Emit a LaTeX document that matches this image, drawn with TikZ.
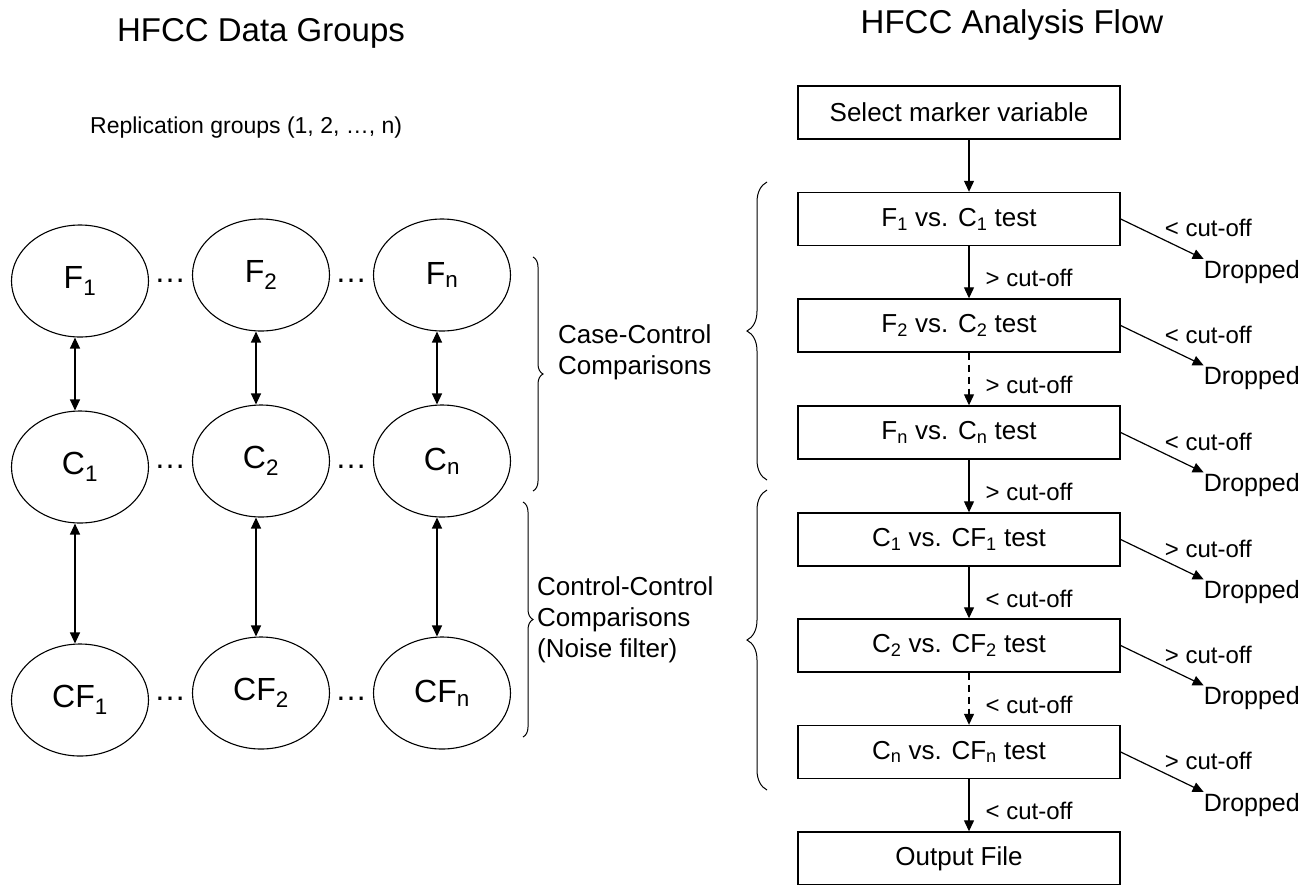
\documentclass[tikz,border=0pt]{standalone}
\usepackage{fontspec}
\setmainfont{Liberation Sans}
\usetikzlibrary{arrows.meta,shapes.geometric,calc,decorations.pathreplacing}
\begin{document}
\begin{tikzpicture}[x=1pt,y=-1pt,
  ell/.style={ellipse,draw,line width=1.1pt,minimum width=137pt,minimum height=112pt,inner sep=0pt,font=\fontsize{32}{38}\selectfont},
  box/.style={rectangle,draw,line width=1.4pt,minimum width=322pt,minimum height=53pt,inner sep=0pt,font=\fontsize{26}{31}\selectfont},
  dots/.style={inner sep=0pt,anchor=base,font=\fontsize{32}{38}\selectfont},
  arr/.style={line width=1.2pt,-{Triangle[length=11pt,width=10pt]}},
  darr/.style={line width=1.2pt,{Triangle[length=11pt,width=10pt]}-{Triangle[length=11pt,width=10pt]}},
  dsh/.style={dash pattern=on 7pt off 5pt},
  lab/.style={inner sep=0pt,anchor=west,font=\fontsize{24}{28}\selectfont},
  drp/.style={inner sep=0pt,anchor=west,font=\fontsize{25}{30}\selectfont},
  side/.style={inner sep=0pt,anchor=west,align=left,font=\fontsize{26}{31}\selectfont},
  title/.style={inner sep=0pt,font=\fontsize{33}{40}\selectfont},
  brc/.style={decorate,line width=1pt}
]
\useasboundingbox (0,0) rectangle (1316,884);

% ---- titles ----
\node[title] (tl) at (261,33) {HFCC Data Groups};
\node[title] (tr) at (1012,25) {HFCC Analysis Flow};
\node[inner sep=0pt,anchor=west,font=\fontsize{23}{28}\selectfont] (rep) at (90,128) {Replication groups (1, 2, …, n)};

% ---- ellipses ----
\node[ell] (F1) at (80,281) {F\textsubscript{1}};
\node[ell] (F2) at (261,275) {F\textsubscript{2}};
\node[ell] (Fn) at (442,275) {F\textsubscript{n}};
\node[ell] (C1) at (80,467) {C\textsubscript{1}};
\node[ell] (C2) at (261,461) {C\textsubscript{2}};
\node[ell] (Cn) at (442,461) {C\textsubscript{n}};
\node[ell] (CF1) at (80,700) {CF\textsubscript{1}};
\node[ell] (CF2) at (261,693) {CF\textsubscript{2}};
\node[ell] (CFn) at (442,693) {CF\textsubscript{n}};

\node[dots] (dF1) at (170,282) {…};
\node[dots] (dF2) at (351,282) {…};
\node[dots] (dC1) at (170,468) {…};
\node[dots] (dC2) at (351,468) {…};
\node[dots] (dCF1) at (170,700) {…};
\node[dots] (dCF2) at (351,700) {…};

\draw[darr] ([xshift=-5pt]F1.south) -- ([xshift=-5pt]C1.north);
\draw[darr] ([xshift=-5pt]F2.south) -- ([xshift=-5pt]C2.north);
\draw[darr] ([xshift=-5pt]Fn.south) -- ([xshift=-5pt]Cn.north);
\draw[darr] ([xshift=-5pt]C1.south) -- ([xshift=-5pt]CF1.north);
\draw[darr] ([xshift=-5pt]C2.south) -- ([xshift=-5pt]CF2.north);
\draw[darr] ([xshift=-5pt]Cn.south) -- ([xshift=-5pt]CFn.north);

% ---- left braces ----
\draw[brc,decoration={brace,amplitude=10pt}] (533,257) -- (533,491);
\draw[brc,decoration={brace,amplitude=10pt}] (523,502) -- (523,737);
\node[side] (cc) at (558,352) {Case-Control\\Comparisons};
\node[side] (ccn) at (537,620) {Control-Control\\Comparisons\\(Noise filter)};

% ---- right braces ----
\draw[brc,decoration={brace,amplitude=20pt}] (767,480) -- (767,182);
\draw[brc,decoration={brace,amplitude=20pt}] (767,790) -- (767,490);

% ---- flow boxes ----
\node[box] (s0) at (959,112.5) {Select marker variable};
\node[box] (b1) at (959,219) {F\textsubscript{1} vs. C\textsubscript{1} test};
\node[box] (b2) at (959,325.5) {F\textsubscript{2} vs. C\textsubscript{2} test};
\node[box] (b3) at (959,432.5) {F\textsubscript{n} vs. C\textsubscript{n} test};
\node[box] (b4) at (959,539.5) {C\textsubscript{1} vs. CF\textsubscript{1} test};
\node[box] (b5) at (959,645.5) {C\textsubscript{2} vs. CF\textsubscript{2} test};
\node[box] (b6) at (959,752) {C\textsubscript{n} vs. CF\textsubscript{n} test};
\node[box] (out) at (959,858.5) {Output File};

\draw[arr] ([xshift=10pt]s0.south) -- ([xshift=10pt]b1.north);
\draw[arr] ([xshift=10pt]b1.south) -- node[lab,xshift=16pt,yshift=-6pt]{> cut-off} ([xshift=10pt]b2.north);
\draw[arr,dsh] ([xshift=10pt]b2.south) -- node[lab,xshift=16pt,yshift=-6pt]{> cut-off} ([xshift=10pt]b3.north);
\draw[arr] ([xshift=10pt]b3.south) -- node[lab,xshift=16pt,yshift=-6pt]{> cut-off} ([xshift=10pt]b4.north);
\draw[arr] ([xshift=10pt]b4.south) -- node[lab,xshift=16pt,yshift=-6pt]{< cut-off} ([xshift=10pt]b5.north);
\draw[arr,dsh] ([xshift=10pt]b5.south) -- node[lab,xshift=16pt,yshift=-6pt]{< cut-off} ([xshift=10pt]b6.north);
\draw[arr] ([xshift=10pt]b6.south) -- node[lab,xshift=16pt,yshift=-6pt]{< cut-off} ([xshift=10pt]out.north);

% ---- dropped branches ----
\coordinate (t1) at ($(b1.east)+(83,40)$);
\coordinate (t2) at ($(b2.east)+(83,40)$);
\coordinate (t3) at ($(b3.east)+(83,40)$);
\coordinate (t4) at ($(b4.east)+(83,40)$);
\coordinate (t5) at ($(b5.east)+(83,40)$);
\coordinate (t6) at ($(b6.east)+(83,40)$);
\draw[arr] (b1.east) -- (t1);
\draw[arr] (b2.east) -- (t2);
\draw[arr] (b3.east) -- (t3);
\draw[arr] (b4.east) -- (t4);
\draw[arr] (b5.east) -- (t5);
\draw[arr] (b6.east) -- (t6);
\node[lab] (l1) at ($(b1.east)+(44,9)$) {< cut-off};
\node[lab] (l2) at ($(b2.east)+(44,9)$) {< cut-off};
\node[lab] (l3) at ($(b3.east)+(44,9)$) {< cut-off};
\node[lab] (l4) at ($(b4.east)+(44,9)$) {> cut-off};
\node[lab] (l5) at ($(b5.east)+(44,9)$) {> cut-off};
\node[lab] (l6) at ($(b6.east)+(44,9)$) {> cut-off};
\node[drp] (d1) at ($(b1.east)+(83,53)$) {Dropped};
\node[drp] (d2) at ($(b2.east)+(83,53)$) {Dropped};
\node[drp] (d3) at ($(b3.east)+(83,53)$) {Dropped};
\node[drp] (d4) at ($(b4.east)+(83,53)$) {Dropped};
\node[drp] (d5) at ($(b5.east)+(83,53)$) {Dropped};
\node[drp] (d6) at ($(b6.east)+(83,53)$) {Dropped};
\end{tikzpicture}
\end{document}
